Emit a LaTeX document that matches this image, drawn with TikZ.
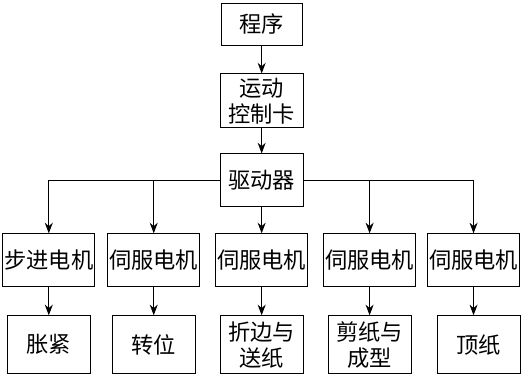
\documentclass[tikz,border=0pt]{standalone}
\usepackage{fontspec}
\newfontfamily\cjk{Noto Sans CJK SC}
\usetikzlibrary{arrows.meta, positioning}

\begin{document}
\begin{tikzpicture}[
    >={Stealth[length=3.2mm, width=2.4mm]},
    box/.style={draw, line width=0.8pt, align=center, inner sep=1pt,
                font=\cjk\fontsize{19}{22}\selectfont},
    motor/.style={box, minimum width=2.76cm, minimum height=1.59cm},
    task/.style={box, minimum width=2.49cm, minimum height=1.74cm},
    link/.style={->, line width=0.8pt}
  ]
  \useasboundingbox (0,0) rectangle (15.87,-11.31);

  % control chain
  \node[box, minimum width=2.43cm, minimum height=1.26cm] (prog) at (7.85,-0.72) {程序};
  \node[box, minimum width=2.5cm, minimum height=1.62cm, below=0.84cm of prog] (card) {运动\\控制卡};
  \node[box, minimum width=2.49cm, minimum height=1.59cm, below=0.75cm of card] (drv) {驱动器};

  % motors
  \node[motor, below=0.78cm of drv] (m3) {伺服电机};
  \node[motor, left=0.45cm of m3] (m2) {伺服电机};
  \node[motor, left=0.36cm of m2] (m1) {步进电机};
  \node[motor, right=0.45cm of m3] (m4) {伺服电机};
  \node[motor, right=0.33cm of m4] (m5) {伺服电机};

  % tasks
  \node[task, below=0.84cm of m1] (t1) {胀紧};
  \node[task, below=0.84cm of m2] (t2) {转位};
  \node[task, below=0.84cm of m3] (t3) {折边与\\送纸};
  \node[task, below=0.84cm of m4] (t4) {剪纸与\\成型};
  \node[task, below=0.84cm of m5, xshift=0.15cm] (t5) {顶纸};

  \draw[link] (prog) -- (card);
  \draw[link] (card) -- (drv);
  \draw[link] (drv) -- (m3);
  \draw[link] (drv.west) -| (m1.north);
  \draw[link] (drv.west) -| (m2.north);
  \draw[link] (drv.east) -| (m4.north);
  \draw[link] (drv.east) -| (m5.north);

  \draw[link] (m1) -- (m1 |- t1.north);
  \draw[link] (m2) -- (t2);
  \draw[link] (m3) -- (t3);
  \draw[link] (m4) -- (t4);
  \draw[link] (m5) -- (m5 |- t5.north);
\end{tikzpicture}
\end{document}
